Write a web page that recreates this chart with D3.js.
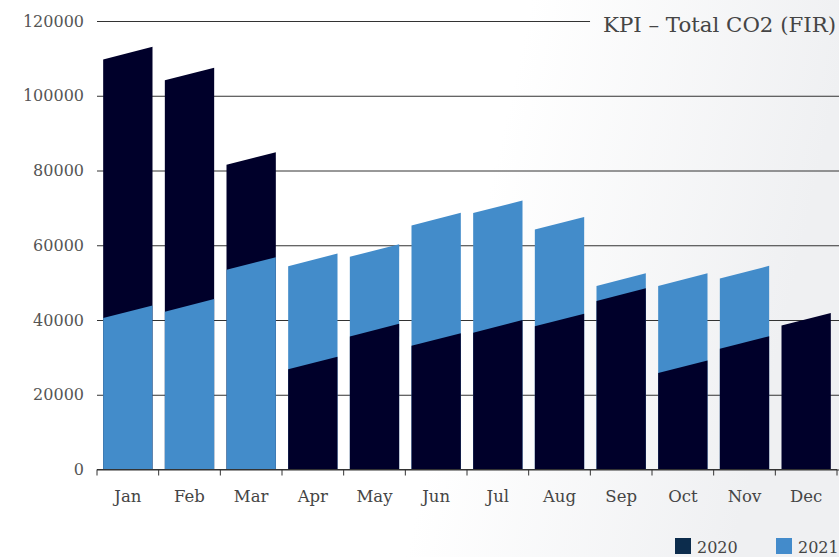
<!DOCTYPE html>
<html>
<head>
<meta charset="utf-8">
<script src="https://cdn.jsdelivr.net/npm/d3@7"></script>
<style>
  html, body { margin: 0; padding: 0; }
  body { width: 839px; height: 557px; overflow: hidden; }
  text { font-family: "DejaVu Serif", serif; }
</style>
</head>
<body>
<svg id="chart" width="839" height="557"></svg>
<script>
// Monthly total CO2 (FIR), 2020 vs 2021
const months = ["Jan", "Feb", "Mar", "Apr", "May", "Jun", "Jul", "Aug", "Sep", "Oct", "Nov", "Dec"];
const values2020 = [111400, 105800, 83200, 28500, 37300, 34800, 38300, 40000, 46800, 27500, 34000, 40200];
const values2021 = [42200, 43900, 55100, 56100, 58600, 67000, 70300, 65900, 50800, 50800, 52800, null];
const yTicks = [0, 20000, 40000, 60000, 80000, 100000, 120000];
const seriesNames = ["2020", "2021"];
const title = "KPI \u2013 Total CO2 (FIR)";

const barColors = { "2020": "#00002a", "2021": "#438cca" };
const legendColors = { "2020": "#0c2c4c", "2021": "#438bcb" };

const W = 839, H = 557;
const plot = { left: 97, right: 837, top: 21, bottom: 469.5 };
const slant = 6.3; // half the rise across a bar's top edge, in px

const svg = d3.select("#chart");

// background: white fading to light grey on the right
const defs = svg.append("defs");
const grad = defs.append("linearGradient").attr("id", "bg").attr("x1", 0).attr("x2", 1).attr("y1", 0).attr("y2", 0.15);
grad.append("stop").attr("offset", "0.62").attr("stop-color", "#ffffff");
grad.append("stop").attr("offset", "1").attr("stop-color", "#eff0f2");
svg.append("rect").attr("width", W).attr("height", H).attr("fill", "url(#bg)");

const x = d3.scaleBand().domain(months).range([plot.left, plot.right]).paddingInner(0.2).paddingOuter(0.1);
const y = d3.scaleLinear().domain([0, 120000]).range([plot.bottom, plot.top]);

// title
const titleText = svg.append("text")
  .attr("x", 836).attr("y", 32)
  .attr("text-anchor", "end")
  .attr("font-size", 21.3)
  .attr("fill", "#454545")
  .text(title);
const titleLeft = 836 - titleText.node().getComputedTextLength();

// y axis with gridlines
const yAxis = svg.append("g")
  .attr("transform", `translate(${plot.left},0)`)
  .call(d3.axisLeft(y).tickValues(yTicks).tickFormat(d3.format("d"))
    .tickSizeInner(-(W - plot.left)).tickSizeOuter(0).tickPadding(13));
yAxis.select(".domain").remove();
yAxis.selectAll(".tick line").attr("stroke", "#333")
  .attr("x2", d => d === 120000 ? (titleLeft - 13 - plot.left) : (W - plot.left));
yAxis.selectAll(".tick text")
  .attr("font-size", 16).attr("fill", "#555").attr("font-family", "DejaVu Serif, serif");

// bars: both years rise from zero, the smaller one drawn in front
function barPath(m, v) {
  const x0 = x(m), x1 = x(m) + x.bandwidth();
  const yc = y(v), y0 = y(0);
  return `M${x0},${y0}L${x0},${yc + slant}L${x1},${yc - slant}L${x1},${y0}Z`;
}
const barData = [];
months.forEach((m, i) => {
  const pair = [
    { month: m, series: "2020", value: values2020[i] },
    { month: m, series: "2021", value: values2021[i] }
  ].filter(d => d.value != null).sort((a, b) => b.value - a.value);
  barData.push(...pair);
});
svg.append("g").selectAll("path")
  .data(barData)
  .join("path")
  .attr("d", d => barPath(d.month, d.value))
  .attr("fill", d => barColors[d.series]);

// x axis: baseline, boundary ticks and month labels
const xg = svg.append("g");
xg.append("line")
  .attr("x1", plot.left).attr("x2", plot.right)
  .attr("y1", y(0)).attr("y2", y(0))
  .attr("stroke", "#333");
const bounds = months.map(m => x(m) - x.step() * x.paddingInner() / 2);
bounds.push(x(months[months.length - 1]) + x.bandwidth() + x.step() * x.paddingInner() / 2);
xg.selectAll("line.tick").data(bounds).join("line")
  .attr("class", "tick")
  .attr("x1", d => d).attr("x2", d => d)
  .attr("y1", y(0)).attr("y2", y(0) + 6)
  .attr("stroke", "#333");
xg.selectAll("text").data(months).join("text")
  .attr("x", d => x(d) + x.bandwidth() / 2)
  .attr("y", 502)
  .attr("text-anchor", "middle")
  .attr("font-size", 16.5)
  .attr("fill", "#454545")
  .text(d => d);

// legend
const legendX = { "2020": 675, "2021": 776 };
const lg = svg.append("g").selectAll("g").data(seriesNames).join("g")
  .attr("transform", d => `translate(${legendX[d]},538)`);
lg.append("rect").attr("width", 16).attr("height", 16).attr("fill", d => legendColors[d]);
lg.append("text").attr("x", 22).attr("y", 15)
  .attr("font-size", 16).attr("fill", "#454545").text(d => d);
</script>
</body>
</html>
